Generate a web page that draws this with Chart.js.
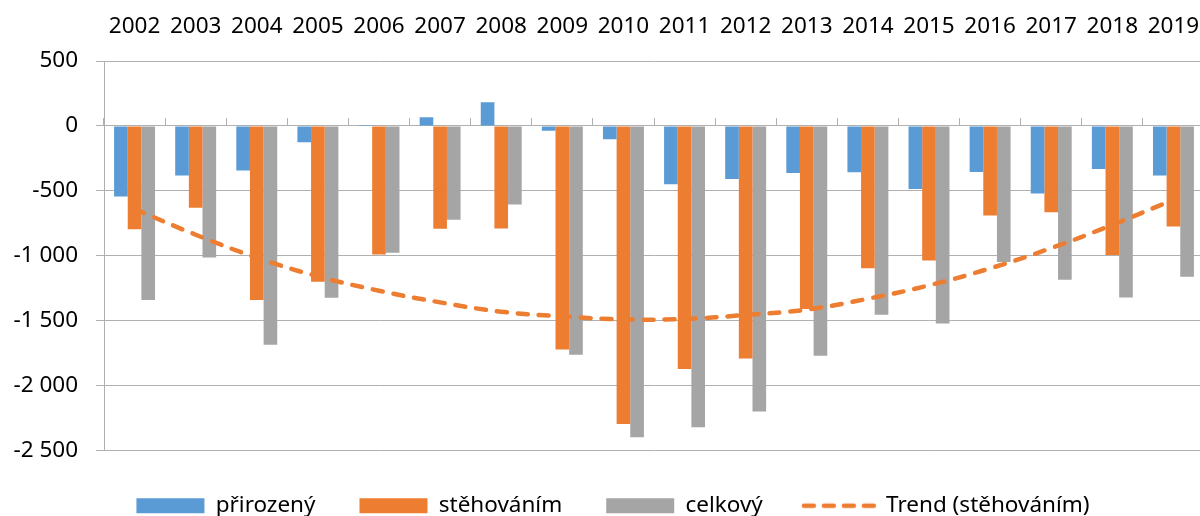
<!DOCTYPE html>
<html>
<head>
<meta charset="utf-8">
<script src="https://cdn.jsdelivr.net/npm/chart.js@4"></script>
<style>
  html, body { margin: 0; padding: 0; background: #fff; overflow: hidden; }
  .wrap { width: 1200px; height: 516px; overflow: hidden; }
</style>
</head>
<body>
<div class="wrap"><canvas id="chart" width="1204" height="516"></canvas></div>
<script>
const years = ['2002', '2003', '2004', '2005', '2006', '2007', '2008', '2009', '2010',
  '2011', '2012', '2013', '2014', '2015', '2016', '2017', '2018', '2019']
const prirozeny = [-544, -382, -344, -125, 8, 67, 182, -38, -102, -449, -408, -362, -356, -485, -354, -521, -331, -382]
const stehovanim = [-795, -631, -1341, -1200, -990, -792, -790, -1723, -2295, -1872, -1792, -1410, -1097, -1036, -690, -664, -995, -774]
const celkovy = [-1341, -1013, -1685, -1323, -977, -723, -605, -1762, -2397, -2321, -2200, -1770, -1454, -1521, -1049, -1185, -1321, -1162]
const trend = [-640, -838, -1015, -1159, -1269, -1359, -1431, -1467, -1490, -1487, -1456, -1415, -1331, -1228, -1097, -941, -762, -569]
const yTicks = [500, 0, -500, -1000, -1500, -2000, -2500]

const blue = '#5b9bd5'
const orange = '#ed7d31'
const gray = '#a5a5a5'
const gridColor = '#b0b0b0'
const font = '"Noto Sans", sans-serif'

Chart.defaults.font.family = font
Chart.defaults.color = '#000'

// czech style number: "-1 000"
function fmt(v) {
    const s = String(Math.abs(v)).replace(/\B(?=(\d{3})+(?!\d))/g, ' ')
    return (v < 0 ? '-' : '') + s
}

// dashed line icon for the trend legend item
const trendIcon = document.createElement('canvas')
trendIcon.width = 80
trendIcon.height = 10
const ic = trendIcon.getContext('2d')
ic.strokeStyle = orange
ic.lineWidth = 4.5
ic.lineCap = 'round'
ic.setLineDash([10, 10])
ic.beginPath()
ic.moveTo(3, 5)
ic.lineTo(77, 5)
ic.stroke()

// legend is centred a bit right of the canvas middle in the original
const legendShift = {
    id: 'legendShift',
    afterLayout(chart) {
        chart.legend.left += 11
        chart.legend.right += 11
    }
}

const data = {
    labels: years,
    datasets: [
        { label: 'přirozený', data: prirozeny, backgroundColor: blue, order: 1 },
        { label: 'stěhováním', data: stehovanim, backgroundColor: orange, order: 1 },
        { label: 'celkový', data: celkovy, backgroundColor: gray, order: 1 },
        {
            type: 'line', label: 'Trend (stěhováním)', data: trend,
            borderColor: orange, backgroundColor: orange, borderWidth: 4.5,
            borderDash: [10, 11], borderCapStyle: 'round',
            pointRadius: 0, tension: 0.4, fill: false, order: -1
        }
    ]
}

const config = {
    type: 'bar',
    data: data,
    plugins: [legendShift],
    options: {
        responsive: false,
        animation: false,
        devicePixelRatio: 1,
        layout: { padding: { top: 13, left: 0, right: 0, bottom: -11 } },
        datasets: { bar: { categoryPercentage: 0.67, barPercentage: 1.0 } },
        scales: {
            x: {
                position: 'top',
                offset: true,
                grid: { display: false, drawTicks: false },
                border: { display: false },
                ticks: { font: { size: 22.5 }, padding: 21, maxRotation: 0, autoSkip: false },
                afterFit: (scale) => {
                    scale.height = 48
                    scale.paddingLeft = 0
                    scale.paddingRight = 0
                }
            },
            x0: {
                type: 'category',
                position: { y: 0 },
                offset: true,
                grid: { offset: true, drawOnChartArea: false, tickLength: -8, color: gridColor },
                border: { display: true, color: gridColor },
                ticks: { display: false },
                afterFit: (scale) => { scale.height = 0 }
            },
            y: {
                min: -2500,
                max: 500,
                afterBuildTicks: (scale) => { scale.ticks = yTicks.map(v => ({ value: v })) },
                afterFit: (scale) => {
                    scale.width = 104
                    scale.paddingTop = 0
                    scale.paddingBottom = 0
                },
                grid: { color: gridColor, tickLength: 8 },
                border: { display: true, color: gridColor },
                ticks: { font: { size: 22.5 }, padding: 18, callback: (v) => fmt(v) }
            }
        },
        plugins: {
            tooltip: { enabled: false },
            legend: {
                position: 'bottom',
                labels: {
                    usePointStyle: true,
                    pointStyleWidth: 68,
                    boxHeight: 15,
                    padding: 44,
                    font: { size: 22.5 },
                    color: '#000',
                    sort: (a, b) => a.datasetIndex - b.datasetIndex,
                    generateLabels(chart) {
                        const items = Chart.defaults.plugins.legend.labels.generateLabels(chart)
                        items.forEach(it => {
                            it.pointStyle = it.datasetIndex === 3 ? trendIcon : 'rect'
                            it.lineWidth = 0
                        })
                        return items
                    }
                }
            }
        }
    }
}

const chart = new Chart(document.getElementById('chart'), config)
</script>
</body>
</html>
